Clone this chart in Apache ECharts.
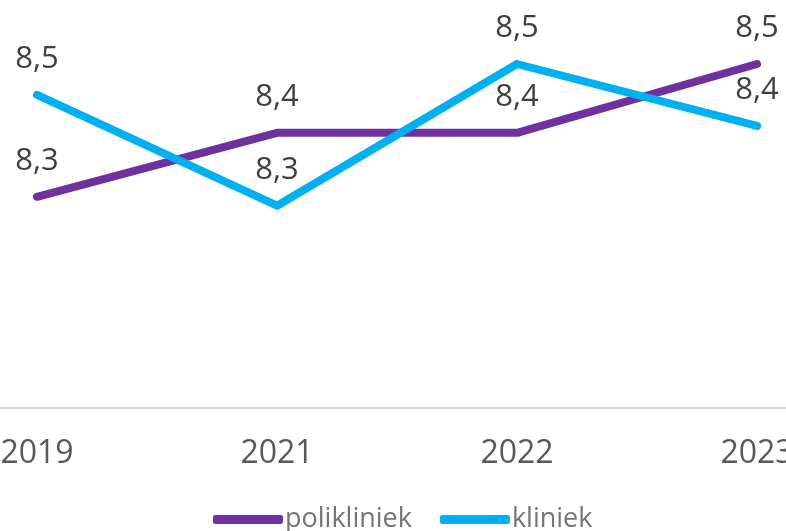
<!DOCTYPE html>
<html>
<head>
<meta charset="utf-8">
<script src="https://cdn.jsdelivr.net/npm/echarts@6/dist/echarts.min.js"></script>
<style>
  html, body { margin: 0; padding: 0; background: #fff; }
  #main { width: 786px; height: 531px; }
</style>
</head>
<body>
<div id="main"></div>
<script>
const years = ['2019', '2021', '2022', '2023'];
const polikliniek = [8.307, 8.40, 8.40, 8.50];
const kliniek = [8.455, 8.294, 8.50, 8.41];

const chart = echarts.init(document.getElementById('main'));
const font = '"Open Sans", "Noto Sans", sans-serif';

function makeSeries(name, data, color) {
  return {
    name: name,
    type: 'line',
    data: data,
    symbol: 'circle',
    symbolSize: 1,
    showSymbol: true,
    lineStyle: { color: color, width: 8, cap: 'round', join: 'round' },
    itemStyle: { color: color },
    label: {
      show: true,
      position: 'top',
      distance: 20,
      fontFamily: font,
      fontSize: 31,
      color: '#404040',
      formatter: p => p.value.toFixed(1).replace('.', ',')
    }
  };
}

chart.setOption({
  animation: false,
  grid: { left: -83, right: -91, top: 64, bottom: 123, outerBoundsMode: 'none', containLabel: false },
  xAxis: {
    type: 'category',
    data: years,
    boundaryGap: true,
    axisLine: { lineStyle: { color: '#d9d9d9', width: 2 } },
    axisTick: { show: false },
    axisLabel: { fontFamily: font, fontSize: 32, color: '#595959', margin: 30 }
  },
  yAxis: {
    type: 'value',
    min: 8.0,
    max: 8.5,
    show: false,
    splitLine: { show: false }
  },
  legend: {
    left: 213,
    top: 506,
    padding: 0,
    itemWidth: 70,
    itemHeight: 9,
    itemGap: 28,
    icon: 'roundRect',
    textStyle: { fontFamily: font, fontSize: 27, color: '#757575', padding: [0, 0, 0, -3] },
    data: ['polikliniek', 'kliniek']
  },
  series: [
    makeSeries('polikliniek', polikliniek, '#7030A0'),
    makeSeries('kliniek', kliniek, '#00B0F0')
  ]
});
</script>
</body>
</html>
